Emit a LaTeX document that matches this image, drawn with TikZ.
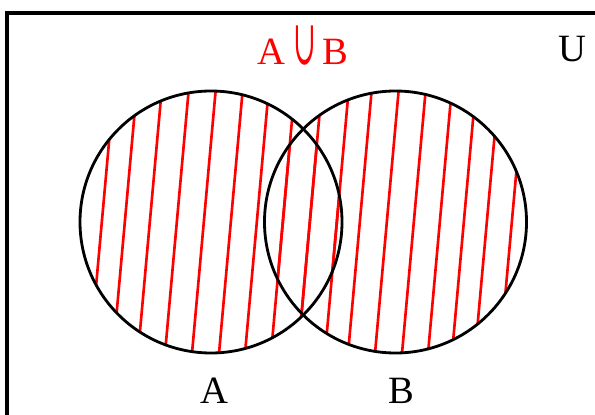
\documentclass[tikz,border=0pt]{standalone}
\usepackage{fontspec}
\setmainfont{Liberation Serif}
\newfontfamily\symfont{DejaVu Serif}
\usepackage{graphicx}

\begin{document}
\begin{tikzpicture}[x=0.02cm, y=-0.02cm,
    setline/.style={line width=1.6pt},
    hatch/.style={red, line width=1.5pt},
    setlabel/.style={anchor=base, inner sep=0pt, font=\fontsize{22}{26}\selectfont}]
    \path[use as bounding box] (0,0) rectangle (595,415);

    % Universe box (cut at the right and bottom)
    \begin{scope}
        \clip (0,0) rectangle (595,415);
        \draw[line width=2pt] (7,13) rectangle (640,460);
    \end{scope}

    % Centres of the two sets
    \coordinate (cA) at (211,222);
    \coordinate (cB) at (395.5,222);

    % Hatching of A union B
    \begin{scope}
        \clip (cA) circle (131);
        \foreach \xk in {102,125,150,177,204,231,257,283,310,337,360,387,414,440,464,487,512}
            \draw[hatch] ({\xk+0.09*140},80) -- ({\xk-0.09*145},365);
    \end{scope}
    \begin{scope}
        \clip (cB) circle (131);
        \foreach \xk in {102,125,150,177,204,231,257,283,310,337,360,387,414,440,464,487,512}
            \draw[hatch] ({\xk+0.09*140},80) -- ({\xk-0.09*145},365);
    \end{scope}

    % Sets
    \draw[setline] (cA) circle (131);
    \draw[setline] (cB) circle (131);

    % Labels
    \node[setlabel, red] (lblAB) at (302.5,65) {A\hspace{4.5pt}\resizebox{13pt}{22pt}{\symfont ∪}\hspace{3.5pt}B};
    \node[setlabel] (lblU) at (572,62) {U};
    \node[setlabel] (lblA) at (214,403) {A};
    \node[setlabel] (lblB) at (401,403) {B};
\end{tikzpicture}
\end{document}
